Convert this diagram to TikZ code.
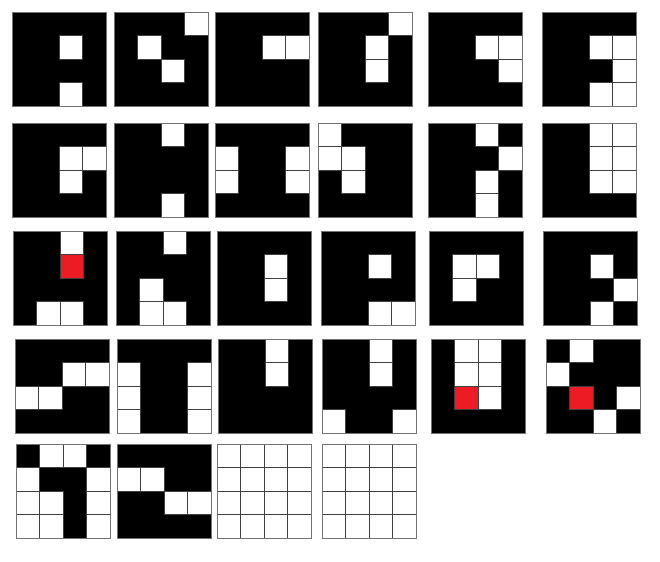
\documentclass[tikz,border=0pt]{standalone}
\definecolor{markred}{HTML}{ED1C24}
\tikzset{
	cellline/.style={draw=black!75, line width=1.1pt},
	outerline/.style={draw=black!55, line width=1pt}
}
% one 4x4 letter grid: #1 x, #2 y, #3 white cells (row/col)
\newcommand{\lettergrid}[3]{
	\fill[black] (#1,#2) rectangle ++(94,94);
	\foreach \r/\c in {#3}
		\draw[cellline, fill=white] (#1+\c*23.5,#2+\r*23.5) rectangle ++(23.5,23.5);
	\draw[outerline] (#1,#2) rectangle ++(94,94);
}
% red cell: #1 x, #2 y, #3 row, #4 col
\newcommand{\redcell}[4]{
	\draw[cellline, fill=markred] (#1+#4*23.5,#2+#3*23.5) rectangle ++(23.5,23.5);
}
% empty grid: #1 x, #2 y
\newcommand{\emptygrid}[2]{
	\foreach \r in {0,...,3}
		\foreach \c in {0,...,3}
			\draw[cellline, fill=white] (#1+\c*23.5,#2+\r*23.5) rectangle ++(23.5,23.5);
	\draw[outerline] (#1,#2) rectangle ++(94,94);
}
\begin{document}
\begin{tikzpicture}[x=0.05cm, y=-0.05cm]

	\useasboundingbox (0,0) rectangle (660,561);

	% row 1
	\lettergrid{12}{12}{1/2,3/2}
	\lettergrid{114}{12}{0/3,1/1,2/2}
	\lettergrid{215}{12}{1/2,1/3}
	\lettergrid{318}{12}{0/3,1/2,2/2}
	\lettergrid{428}{12}{1/2,1/3,2/3}
	\lettergrid{542}{12}{1/2,1/3,2/3,3/2,3/3}

	% row 2
	\lettergrid{12}{123}{1/2,1/3,2/2}
	\lettergrid{114}{123}{0/2,3/2}
	\lettergrid{215}{123}{1/0,2/0,1/3,2/3}
	\lettergrid{318}{123}{0/0,1/0,1/1,2/1}
	\lettergrid{428}{123}{0/2,1/3,2/2,3/2}
	\lettergrid{542}{123}{0/2,0/3,1/2,1/3,2/2,2/3}

	% row 3
	\lettergrid{13}{231}{0/2,3/1,3/2}
	\redcell{13}{231}{1}{2}
	\lettergrid{116}{231}{0/2,2/1,3/1,3/2}
	\lettergrid{217}{231}{1/2,2/2}
	\lettergrid{321}{231}{1/2,3/2,3/3}
	\lettergrid{429}{231}{1/1,1/2,2/1}
	\lettergrid{543}{231}{1/2,2/3,3/2}

	% row 4
	\lettergrid{15}{339}{1/2,1/3,2/0,2/1}
	\lettergrid{117}{339}{1/0,2/0,3/0,1/3,2/3,3/3}
	\lettergrid{218}{339}{0/2,1/2}
	\lettergrid{322}{339}{0/2,1/2,3/0,3/3}
	\lettergrid{431}{339}{0/1,0/2,1/1,1/2,2/2}
	\redcell{431}{339}{2}{1}
	\lettergrid{546}{339}{0/1,1/0,2/3,3/2}
	\redcell{546}{339}{2}{1}

	% row 5
	\lettergrid{16}{444}{0/1,0/2,1/0,1/3,2/0,2/1,2/3,3/0,3/1,3/3}
	\lettergrid{117}{444}{1/0,1/1,2/2,2/3}
	\emptygrid{217}{444}
	\emptygrid{322}{444}

\end{tikzpicture}
\end{document}
